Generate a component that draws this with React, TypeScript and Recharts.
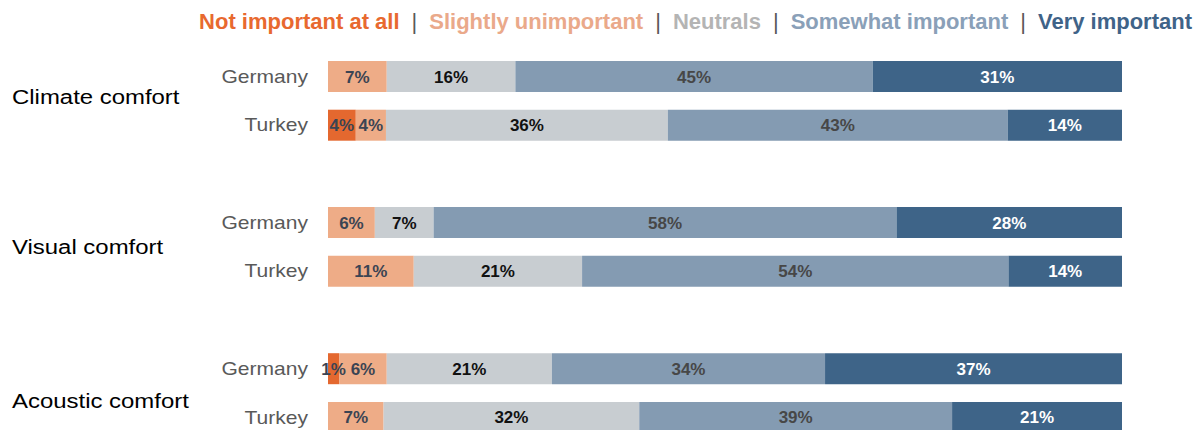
import React from 'react';
import { BarChart, Bar, XAxis, YAxis, LabelList } from 'recharts';

const groups = ['Climate comfort', 'Visual comfort', 'Acoustic comfort'];
const countries = ['Germany', 'Turkey'];

// share of answers per row, rows: Germany / Turkey for each group
const notImportant = [0, 3.5, 0, 0, 1.4, 0];
const slightlyUnimportant = [7.4, 3.8, 5.9, 10.8, 6.0, 7.0];
const neutrals = [16.2, 35.5, 7.4, 21.2, 20.8, 32.2];
const somewhatImportant = [45.0, 42.8, 58.3, 53.7, 34.4, 39.4];
const veryImportant = [31.4, 14.4, 28.4, 14.3, 37.4, 21.4];

const seriesNames = ['Not important at all', 'Slightly unimportant', 'Neutrals', 'Somewhat important', 'Very important'];
const seriesKeys = ['notImportant', 'slightlyUnimportant', 'neutrals', 'somewhatImportant', 'veryImportant'];
const barColors = ['#e4682f', '#eeac87', '#c8cdd1', '#849bb2', '#3e6488'];
const legendColors = ['#e8692f', '#eaa98a', '#b4b4b4', '#8aa0b8', '#3f6388'];
const labelColors = ['#3b4453', '#3b4453', '#111111', '#474747', '#ffffff'];

const WIDTH = 1203;
const HEIGHT = 450;
const TOP = 52;
const PLOT_LEFT = 328;
const PLOT_RIGHT = 81;
const ROW_STEP = 48.7;
const GROUP_LABEL_SHIFT = [-3, 0, 8];
const FONT = '"Liberation Sans", Arial, sans-serif';

// build rows with an empty spacer row between groups
const rows: any[] = [];
groups.forEach((g, gi) => {
  if (gi > 0) rows.push({ id: `spacer-${gi}` });
  countries.forEach((c, ci) => {
    const i = gi * countries.length + ci;
    rows.push({
      id: `${g}-${c}`,
      group: g,
      groupIndex: gi,
      country: c,
      first: ci === 0,
      notImportant: notImportant[i],
      slightlyUnimportant: slightlyUnimportant[i],
      neutrals: neutrals[i],
      somewhatImportant: somewhatImportant[i],
      veryImportant: veryImportant[i],
    });
  });
});

const RowTick = ({ y, payload }: any) => {
  const row = rows.find((r) => r.id === payload.value);
  if (!row || !row.country) return null;
  return (
    <g>
      <text
        transform={`translate(${PLOT_LEFT - 20},${y}) scale(1.17,1)`}
        textAnchor="end"
        dy="0.35em"
        fontSize={18}
        fontFamily={FONT}
        fill="#595959"
      >
        {row.country}
      </text>
      {!row.first && (
        <text
          transform={`translate(12,${y - ROW_STEP / 2 + GROUP_LABEL_SHIFT[row.groupIndex]}) scale(1.14,1)`}
          dy="0.32em"
          fontSize={21}
          fontFamily={FONT}
          fill="#000000"
        >
          {row.group}
        </text>
      )}
    </g>
  );
};

const fmt = (v: any) => (typeof v === 'number' && v > 0 ? `${Math.round(v)}%` : '');

export default function App() {
  return (
    <div style={{ position: 'absolute', left: 0, top: 0, width: WIDTH, height: 430, overflow: 'hidden', background: '#fff' }}>
      <div
        style={{
          position: 'absolute',
          top: 9,
          right: 11,
          height: 26,
          lineHeight: '26px',
          display: 'flex',
          fontFamily: FONT,
          fontSize: 22,
          whiteSpace: 'nowrap',
        }}
      >
        {seriesNames.map((n, i) => (
          <React.Fragment key={n}>
            {i > 0 && <span style={{ color: '#595959', margin: '0 12px', fontWeight: 400 }}>|</span>}
            <span style={{ color: legendColors[i], fontWeight: 700 }}>{n}</span>
          </React.Fragment>
        ))}
      </div>
      <BarChart
        width={WIDTH}
        height={HEIGHT}
        data={rows}
        layout="vertical"
        barSize={31}
        margin={{ top: TOP, right: PLOT_RIGHT, bottom: HEIGHT - TOP - ROW_STEP * rows.length, left: 0 }}
      >
        <XAxis type="number" domain={[0, 100]} hide />
        <YAxis
          type="category"
          dataKey="id"
          width={PLOT_LEFT}
          axisLine={false}
          tickLine={false}
          interval={0}
          tick={<RowTick />}
        />
        {seriesKeys.map((k, i) => (
          <Bar key={k} dataKey={k} name={seriesNames[i]} stackId="a" fill={barColors[i]} isAnimationActive={false}>
            <LabelList
              dataKey={k}
              position="center"
              formatter={fmt}
              fill={labelColors[i]}
              fontSize={17}
              fontWeight={700}
              fontFamily={FONT}
            />
          </Bar>
        ))}
      </BarChart>
    </div>
  );
}
